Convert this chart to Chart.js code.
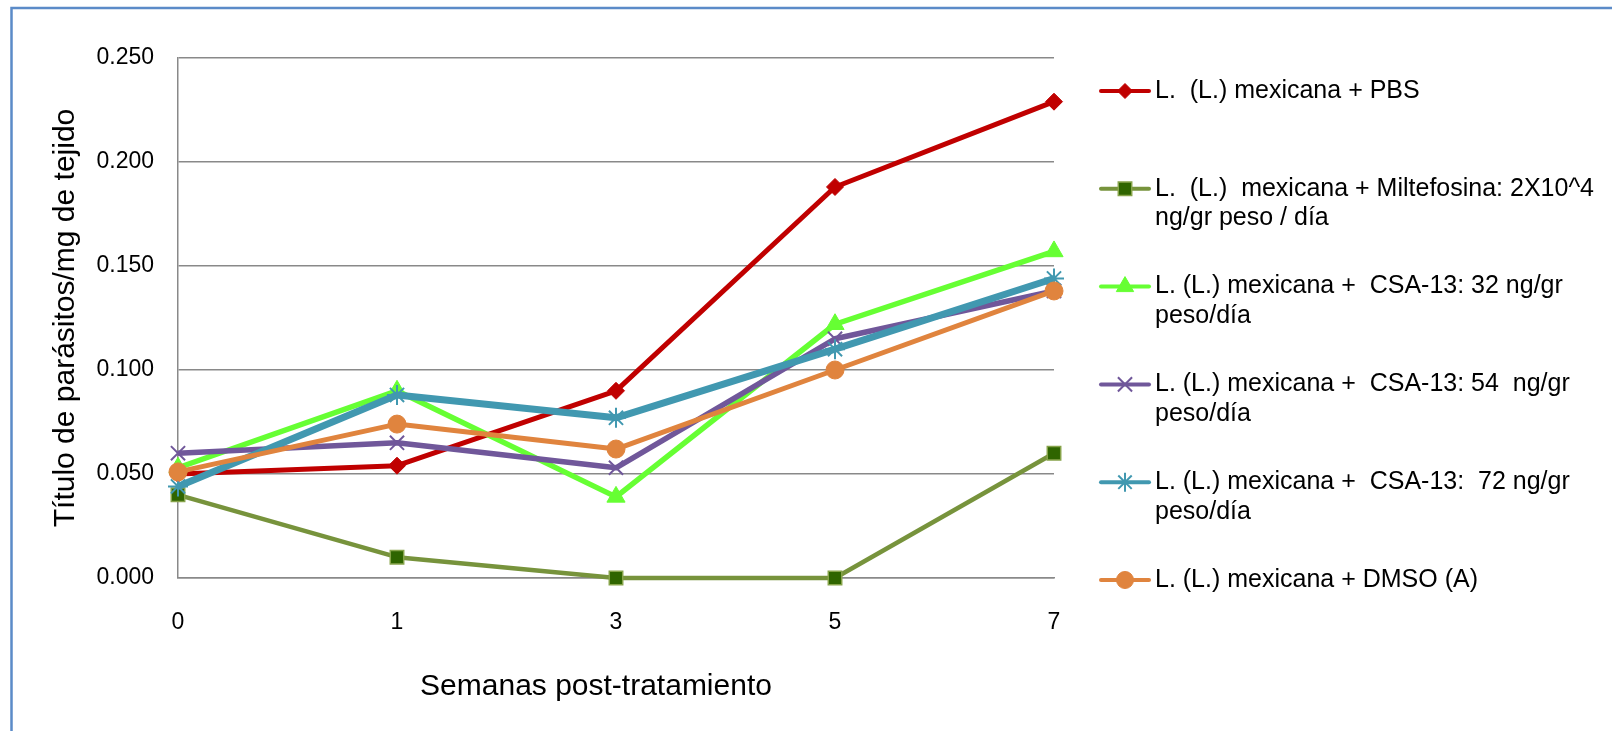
<!DOCTYPE html>
<html lang="es">
<head>
<meta charset="utf-8">
<title>Título de parásitos/mg de tejido</title>
<script src="https://cdn.jsdelivr.net/npm/chart.js@4.4.1/dist/chart.umd.min.js"></script>
<style>
  html, body { margin: 0; padding: 0; background: #ffffff; }
  #wrap { position: relative; width: 1612px; height: 731px; }
</style>
</head>
<body>
<div id="wrap"><canvas id="grafica"></canvas></div>
<script>
// Semanas post-tratamiento
const semanas = ['0', '1', '3', '5', '7'];

// Título de parásitos/mg de tejido por grupo
const pbs         = [0.050, 0.054, 0.090, 0.188, 0.229];
const miltefosina = [0.040, 0.010, 0.000, 0.000, 0.060];
const csa32       = [0.053, 0.090, 0.039, 0.122, 0.157];
const csa54       = [0.060, 0.065, 0.053, 0.115, 0.138];
const csa72       = [0.044, 0.088, 0.077, 0.110, 0.144];
const dmso        = [0.051, 0.074, 0.062, 0.100, 0.138];

// Rótulos de la leyenda (una entrada por línea de texto)
const rotulos = [
  ['L.  (L.) mexicana + PBS'],
  ['L.  (L.)  mexicana + Miltefosina: 2X10^4', 'ng/gr peso / día'],
  ['L. (L.) mexicana +  CSA-13: 32 ng/gr', 'peso/día'],
  ['L. (L.) mexicana +  CSA-13: 54  ng/gr', 'peso/día'],
  ['L. (L.) mexicana +  CSA-13:  72 ng/gr', 'peso/día'],
  ['L. (L.) mexicana + DMSO (A)']
];

const tituloX = 'Semanas post-tratamiento';
const tituloY = 'Título de parásitos/mg de tejido';

// Escala del eje Y
const yMin = 0, yMax = 0.25, yPaso = 0.05;

const FUENTE = "'Liberation Sans', Arial, sans-serif";

const series = [
  { data: pbs,         color: '#C00000', ancho: 5,   estilo: 'rectRot',  radio: 8.5,  relleno: '#C00000', borde: '#C00000', bordeAncho: 1,   radioLey: 7.5 },
  { data: miltefosina, color: '#77933C', ancho: 4.5, estilo: 'rect',     radio: 9.5,  relleno: '#2F6500', borde: '#86A34A', bordeAncho: 1.5, radioLey: 9.5 },
  { data: csa32,       color: '#66FF33', ancho: 5.5, estilo: 'triangle', radio: 10.5, relleno: '#66FF33', borde: '#66FF33', bordeAncho: 1,   radioLey: 10 },
  { data: csa54,       color: '#70579A', ancho: 5.5, estilo: 'crossRot', radio: 10,   relleno: '#70579A', borde: '#70579A', bordeAncho: 2,   radioLey: 10 },
  { data: csa72,       color: '#4198B0', ancho: 7,   estilo: 'star',     radio: 10,   relleno: '#4198B0', borde: '#4198B0', bordeAncho: 2,   radioLey: 9.5 },
  { data: dmso,        color: '#E0843E', ancho: 5,   estilo: 'circle',   radio: 9,    relleno: '#E0843E', borde: '#E0843E', bordeAncho: 1,   radioLey: 8.5 }
];

const datasets = series.map((s, i) => ({
  label: rotulos[i].join(' '),
  data: s.data,
  borderColor: s.color,
  borderWidth: s.ancho,
  backgroundColor: s.relleno,
  pointStyle: s.estilo,
  pointRadius: s.radio,
  pointHoverRadius: s.radio,
  pointBackgroundColor: s.relleno,
  pointBorderColor: s.borde,
  pointBorderWidth: s.bordeAncho,
  borderJoinStyle: 'round',
  tension: 0,
  fill: false,
  clip: false,
  order: series.length - i
}));

// Fondo blanco y marco azul exterior
const marco = {
  id: 'marco',
  beforeDraw(chart) {
    const ctx = chart.ctx;
    ctx.save();
    ctx.fillStyle = '#ffffff';
    ctx.fillRect(0, 0, chart.width, chart.height);
    ctx.strokeStyle = '#5B8BC8';
    ctx.lineWidth = 2.5;
    ctx.beginPath();
    ctx.moveTo(11.5, chart.height + 5);
    ctx.lineTo(11.5, 8);
    ctx.lineTo(chart.width + 5, 8);
    ctx.stroke();
    ctx.restore();
  }
};

// Título del eje X, centrado bajo las etiquetas
const tituloEjeX = {
  id: 'tituloEjeX',
  afterDraw(chart) {
    const ctx = chart.ctx;
    ctx.save();
    ctx.fillStyle = '#000000';
    ctx.font = '30px ' + FUENTE;
    ctx.textAlign = 'center';
    ctx.textBaseline = 'middle';
    ctx.fillText(tituloX, 596, 687);
    ctx.restore();
  }
};

// Leyenda a la derecha con rótulos en varias líneas
const leyenda = {
  id: 'leyenda',
  afterDraw(chart) {
    const ctx = chart.ctx;
    const x0 = 1099, x1 = 1151, xt = 1155;
    const y0 = 91, paso = 97.8, interlinea = 29.5;
    ctx.save();
    chart.data.datasets.forEach((ds, i) => {
      const y = y0 + i * paso;
      ctx.strokeStyle = ds.borderColor;
      ctx.lineWidth = 4;
      ctx.lineCap = 'round';
      ctx.beginPath();
      ctx.moveTo(x0 + 2, y);
      ctx.lineTo(x1 - 2, y);
      ctx.stroke();
      ctx.lineCap = 'butt';
      ctx.fillStyle = ds.pointBackgroundColor;
      ctx.strokeStyle = ds.pointBorderColor;
      ctx.lineWidth = ds.pointBorderWidth;
      Chart.helpers.drawPoint(ctx, {
        pointStyle: ds.pointStyle,
        radius: series[i].radioLey,
        rotation: 0,
        borderWidth: ds.pointBorderWidth
      }, (x0 + x1) / 2, y);
      ctx.fillStyle = '#000000';
      ctx.font = '25px ' + FUENTE;
      ctx.textAlign = 'left';
      ctx.textBaseline = 'middle';
      rotulos[i].forEach((linea, k) => {
        ctx.fillText(linea, xt, y + k * interlinea);
      });
    });
    ctx.restore();
  }
};

const PAD = { left: 20, right: 558, top: 58, bottom: 20 };

new Chart(document.getElementById('grafica'), {
  type: 'line',
  data: { labels: semanas, datasets },
  plugins: [marco, tituloEjeX, leyenda],
  options: {
    responsive: true,
    maintainAspectRatio: false,
    animation: false,
    layout: { padding: PAD },
    plugins: {
      legend: { display: false },
      tooltip: { enabled: false },
      title: { display: false }
    },
    scales: {
      x: {
        type: 'category',
        offset: false,
        grid: { display: false, drawTicks: false },
        border: { display: true, color: '#898989', width: 1.5 },
        ticks: {
          color: '#000000',
          font: { family: FUENTE, size: 23 },
          padding: 31,
          maxRotation: 0,
          autoSkip: false
        },
        title: { display: false },
        afterFit(scale) { scale.height = 731 - PAD.bottom - 578; }
      },
      y: {
        min: yMin,
        max: yMax,
        grid: { display: true, color: '#898989', lineWidth: 1.5, drawTicks: false },
        border: { display: true, color: '#898989', width: 1.5 },
        ticks: {
          stepSize: yPaso,
          color: '#000000',
          font: { family: FUENTE, size: 23 },
          padding: 24,
          callback: (v) => Number(v).toFixed(3)
        },
        title: {
          display: true,
          text: tituloY,
          color: '#000000',
          font: { family: FUENTE, size: 30, lineHeight: 1.2 },
          padding: { top: 28, bottom: 0 }
        },
        afterFit(scale) { scale.width = 178 - PAD.left; }
      }
    }
  }
});
</script>
</body>
</html>
